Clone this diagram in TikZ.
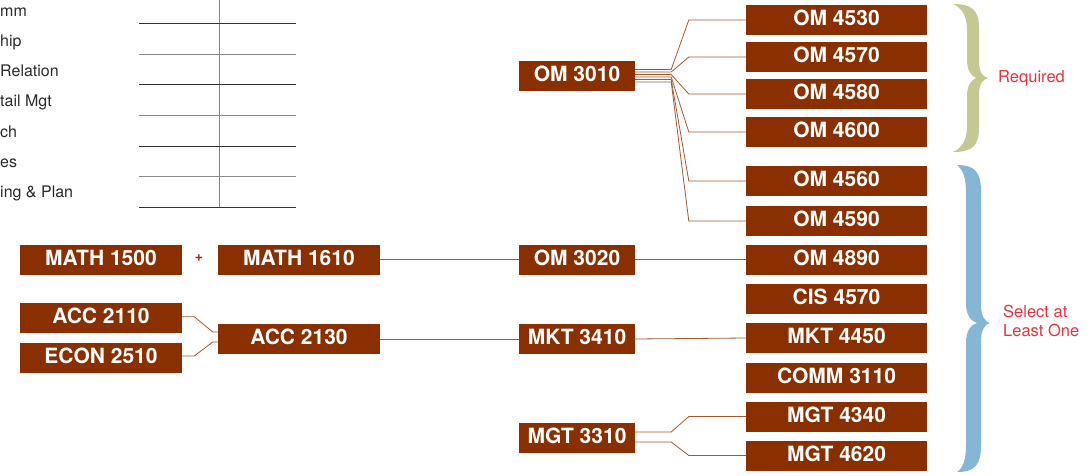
\documentclass[tikz,border=0pt]{standalone}
\usepackage{fontspec}
\setmainfont{TeX Gyre Heros}
\definecolor{boxc}{HTML}{8A2F00}
\definecolor{linec}{HTML}{A5572F}
\definecolor{redt}{HTML}{E8323C}
\definecolor{greenb}{HTML}{C4C994}
\definecolor{blueb}{HTML}{85B6D6}
\definecolor{darkl}{HTML}{333333}
\definecolor{grayl}{HTML}{8A8A8A}
\definecolor{listc}{HTML}{2A2A2A}
\begin{document}
\begin{tikzpicture}[x=1pt,y=-1pt,
  course/.style={fill=boxc, text=white, font=\bfseries\fontsize{21}{25}\selectfont, inner sep=0pt, minimum height=30pt, text height=15pt, text depth=4pt},
  rcol/.style={course, minimum width=181pt},
  mcol/.style={course, minimum width=116pt},
  lcol/.style={course, minimum width=162pt},
  conn/.style={draw=linec, line width=0.8pt},
  listtext/.style={anchor=base west, inner sep=0pt, text=listc, font=\fontsize{16}{19}\selectfont},
  note/.style={anchor=west, inner sep=0pt, text=redt, font=\fontsize{16.5}{20}\selectfont, align=left}
]
\useasboundingbox (0,0) rectangle (1092,475);

% left list of texts (cut at the left edge)
\node[listtext] (t1) at (0,16) {mm};
\node[listtext] (t2) at (0,46.5) {hip};
\node[listtext] (t3) at (0,76) {Relation};
\node[listtext] (t4) at (0,106.5) {tail Mgt};
\node[listtext] (t5) at (0,137) {ch};
\node[listtext] (t6) at (0,167) {es};
\node[listtext] (t7) at (0,197.5) {ing \& Plan};

% table grid
\draw[grayl, line width=0.9pt] (219,0) -- (219,207);
\foreach \yy/\cc in {23/darkl,54/grayl,84/darkl,115/grayl,146/darkl,176/grayl,207/darkl}
  \draw[\cc, line width=0.9pt] (139,\yy) -- (296,\yy);

% right column
\node[rcol] (om4530) at (836.5,20) {OM 4530};
\node[rcol] (om4570) at (836.5,57) {OM 4570};
\node[rcol] (om4580) at (836.5,94) {OM 4580};
\node[rcol] (om4600) at (836.5,132) {OM 4600};
\node[rcol] (om4560) at (836.5,181) {OM 4560};
\node[rcol] (om4590) at (836.5,221) {OM 4590};
\node[rcol] (om4890) at (836.5,259.5) {OM 4890};
\node[rcol] (cis4570) at (836.5,299) {CIS 4570};
\node[rcol] (mkt4450) at (836.5,338) {MKT 4450};
\node[rcol] (comm3110) at (836.5,377.5) {COMM 3110};
\node[rcol] (mgt4340) at (836.5,416.5) {MGT 4340};
\node[rcol] (mgt4620) at (836.5,455.5) {MGT 4620};

% middle column
\node[mcol] (om3010) at (577,76) {OM 3010};
\node[mcol] (om3020) at (577,259.5) {OM 3020};
\node[mcol] (mkt3410) at (577,339) {MKT 3410};
\node[mcol] (mgt3310) at (577,438) {MGT 3310};

% left columns
\node[lcol] (math1500) at (101,259.5) {MATH 1500};
\node[lcol] (math1610) at (299,259.5) {MATH 1610};
\node[lcol] (acc2110) at (101,318) {ACC 2110};
\node[lcol] (econ2510) at (101,358) {ECON 2510};
\node[lcol] (acc2130) at (299,339) {ACC 2130};
\node[inner sep=0pt, text=boxc, font=\bfseries\fontsize{14}{16}\selectfont] (plus) at (199,258) {+};

% fan from OM 3010
\foreach \t/\s in {om4530/6.5, om4570/4, om4580/1.5, om4600/-1, om4560/-3.5, om4590/-6}
  \draw[conn] ([yshift=\s pt]om3010.east) -- ++(36,0) -- ([xshift=-57pt]\t.west) -- (\t.west);

% straight connectors
\draw[conn] (math1610.east) -- (om3020.west);
\draw[conn] (om3020.east) -- (om4890.west);
\draw[conn] (acc2130.east) -- (mkt3410.west);
\draw[conn] (mkt3410.east) -- (mkt4450.west);

% ACC 2110 / ECON 2510 to ACC 2130
\draw[conn] ([yshift=1.3pt]acc2110.east) -- ++(12,0) -- ([xshift=-5pt,yshift=7pt]acc2130.west) -- ([yshift=7pt]acc2130.west);
\draw[conn] ([yshift=2pt]econ2510.east) -- ++(12,0) -- ([xshift=-5pt,yshift=-3pt]acc2130.west) -- ([yshift=-3pt]acc2130.west);

% MGT 3310 to MGT 4340 / MGT 4620
\draw[conn] ([yshift=6pt]mgt3310.east) -- ++(36,0) -- ([xshift=-57pt]mgt4340.west) -- (mgt4340.west);
\draw[conn] ([yshift=-4pt]mgt3310.east) -- ++(36,0) -- ([xshift=-57pt]mgt4620.west) -- (mgt4620.west);

% Required brace
\fill[greenb] (953,4) .. controls (972,4) and (979,10) .. (979,28) -- (979,62)
  .. controls (979,72) and (983,77) .. (988,78)
  .. controls (983,79) and (979,84) .. (979,94) -- (979,128)
  .. controls (979,146) and (972,152) .. (953,152)
  .. controls (962,148) and (967,140) .. (967,126) -- (967,96)
  .. controls (967,86) and (971,80) .. (976,78)
  .. controls (971,76) and (967,70) .. (967,60) -- (967,30)
  .. controls (967,16) and (962,8) .. (953,4) -- cycle;
\node[note] (req) at (998,78) {Required};

% Select brace
\fill[blueb] (957,165) .. controls (975,165) and (981,172) .. (981,192) -- (981,305)
  .. controls (981,316) and (985,322) .. (990,323)
  .. controls (985,324) and (981,330) .. (981,341) -- (981,445)
  .. controls (981,465) and (975,472) .. (957,472)
  .. controls (963,468) and (966,460) .. (966,445) -- (966,343)
  .. controls (966,332) and (970,325) .. (977,323)
  .. controls (970,321) and (966,314) .. (966,303) -- (966,192)
  .. controls (966,178) and (963,170) .. (957,165) -- cycle;
\node[note] (sel) at (1003,321) {Select at\\[-1pt]Least One};
\end{tikzpicture}
\end{document}
